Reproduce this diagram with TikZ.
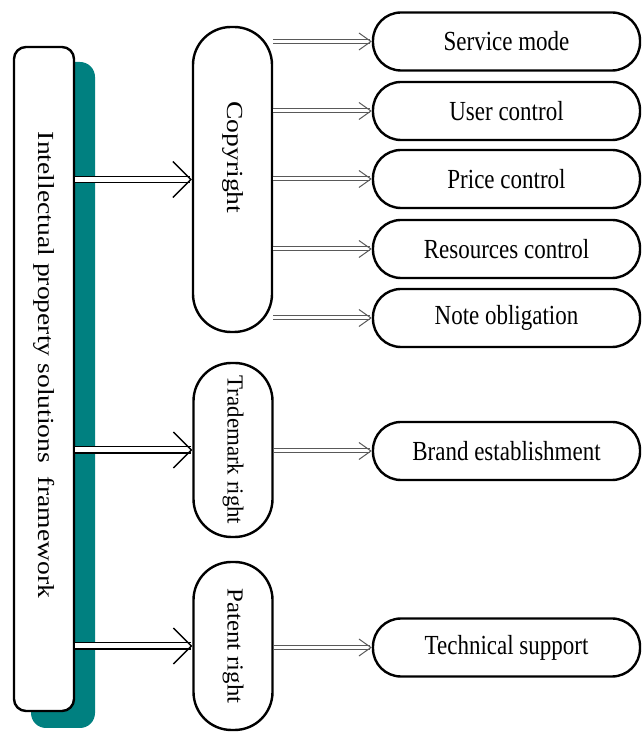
\documentclass[tikz,border=0pt]{standalone}
\usepackage{fontspec}
\setmainfont{Liberation Serif}
\newfontfamily\flatfont[FakeStretch=0.833]{Liberation Serif}
\newfontfamily\tallfont[FakeStretch=1.2]{Liberation Serif}
\usetikzlibrary{arrows.meta}

\begin{document}
\begin{tikzpicture}[x=1pt, y=1pt,
    leaf/.style={draw, fill=white, line width=2.4pt, rounded corners=28pt,
      minimum width=267pt, minimum height=58pt, inner sep=0pt,
      font=\fontsize{27.6}{30}\flatfont},
    pillar/.style={draw, fill=white, line width=2.4pt, rounded corners=38pt,
      minimum width=79pt, inner sep=0pt, font=\fontsize{23}{26}\tallfont},
    bigarrow/.style={draw=black, double=white, double distance=5pt,
      line width=1.3pt, -{Straight Barb[length=18pt, width=36pt]}},
    smallarrow/.style={draw=black!65, double=white, double distance=3pt,
      line width=1pt, -{Straight Barb[length=12pt, width=17pt]}}]
  \useasboundingbox (0,0) rectangle (641,733);

  \node[fill=teal, rounded corners=15pt, minimum width=64pt, minimum height=666pt] (shade) at (63,338) {};
  \node[pillar, rounded corners=12pt, minimum width=60pt, minimum height=664pt] (frame) at (44,354)
    {\rotatebox{-90}{Intellectual property solutions~~framework\hspace{28pt}}};

  \node[pillar, minimum height=305pt] (copy) at (232.5,553.5) {\rotatebox{-90}{Copyright\hspace{44pt}}};
  \node[pillar, minimum height=174pt] (trade) at (233,283) {\rotatebox{-90}{\scalebox{0.83}[1]{Trademark right}}};
  \node[pillar, minimum height=168pt] (patent) at (233,87) {\rotatebox{-90}{\scalebox{0.9}[1]{Patent right}}};

  \node[leaf] (service) at (506.5,691.5) {Service mode};
  \node[leaf] (user) at (506.5,622) {User control};
  \node[leaf] (price) at (506.5,554) {Price control};
  \node[leaf] (resource) at (506.5,484) {Resources control};
  \node[leaf] (note) at (506.5,415) {Note obligation};
  \node[leaf] (brand) at (506.5,282) {Brand establishment};
  \node[leaf] (tech) at (506.5,85.5) {Technical support};

  \draw[bigarrow] (frame.east |- copy.west) -- (copy.west);
  \draw[bigarrow] (frame.east |- trade.west) -- (trade.west);
  \draw[bigarrow] (frame.east |- patent.west) -- (patent.west);

  \draw[smallarrow] (copy.east |- service.west) -- (service.west);
  \draw[smallarrow] (copy.east |- user.west) -- (user.west);
  \draw[smallarrow] (copy.east |- price.west) -- (price.west);
  \draw[smallarrow] (copy.east |- resource.west) -- (resource.west);
  \draw[smallarrow] (copy.east |- note.west) -- (note.west);
  \draw[smallarrow] (trade.east |- brand.west) -- (brand.west);
  \draw[smallarrow] (patent.east |- tech.west) -- (tech.west);
\end{tikzpicture}
\end{document}
